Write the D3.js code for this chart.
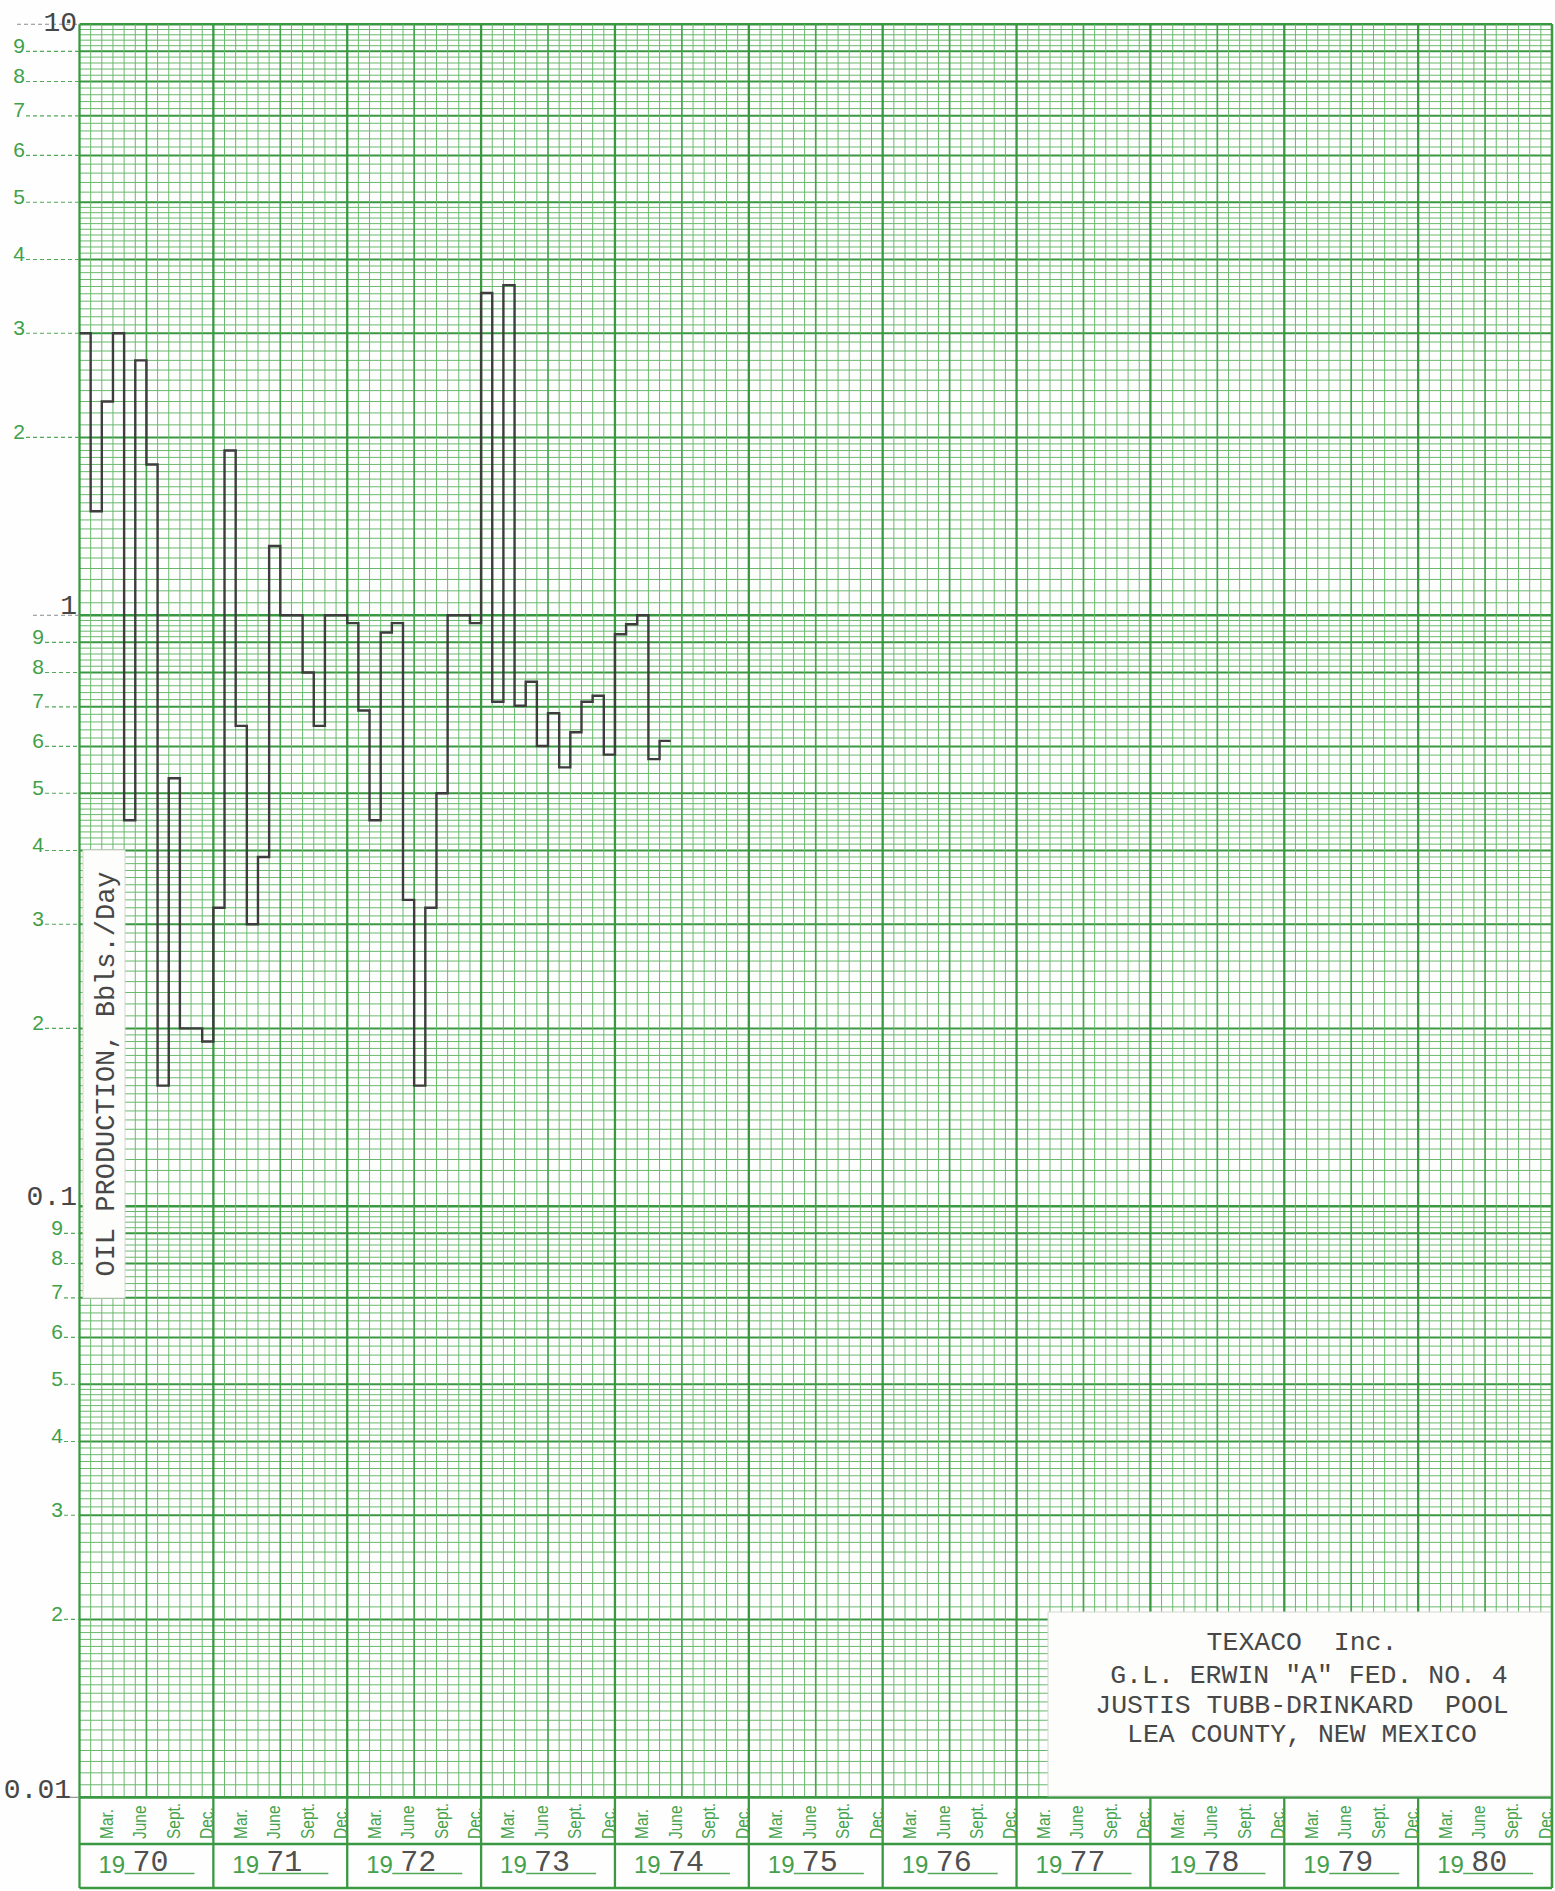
<!DOCTYPE html>
<html><head><meta charset="utf-8">
<script src="https://cdn.jsdelivr.net/npm/d3@7/dist/d3.min.js"></script>
<style>html,body{margin:0;padding:0;background:#fff;} svg{display:block;}</style>
</head><body>
<svg id="chart" width="1555" height="1891"></svg>
<script>
// ---------------- DATA ----------------
const years = [1970, 1971, 1972, 1973, 1974, 1975, 1976, 1977, 1978, 1979, 1980];
const monthLabels = ["Mar.", "June", "Sept.", "Dec."];
const monthLabelMonth = [3, 6, 9, 12];           // calendar month of each label
// Oil production, Bbls./Day, monthly from January of each year
const oil1970 = [3.0, 1.5, 2.3, 3.0, 0.45, 2.7, 1.8, 0.16, 0.53, 0.20, 0.20, 0.19];
const oil1971 = [0.32, 1.9, 0.65, 0.30, 0.39, 1.31, 1.0, 1.0, 0.80, 0.65, 1.0, 1.0];
const oil1972 = [0.97, 0.69, 0.45, 0.935, 0.97, 0.33, 0.16, 0.32, 0.50, 1.0, 1.0, 0.97];
const oil1973 = [3.51, 0.714, 3.62, 0.703, 0.772, 0.601, 0.683, 0.553, 0.634, 0.714, 0.731, 0.581];
const oil1974 = [0.929, 0.966, 1.0, 0.571, 0.613];
const decadeValues = [10, 1, 0.1, 0.01];
const decadeLabels = ["10", "1", "0.1", "0.01"];
const digitLabels = [9, 8, 7, 6, 5, 4, 3, 2];
const yAxisTitle = "OIL PRODUCTION, Bbls./Day";
const titleLines = ["TEXACO  Inc.", "G.L. ERWIN \"A\" FED. NO. 4", "JUSTIS TUBB-DRINKARD  POOL", "LEA COUNTY, NEW MEXICO"];

// ---------------- LAYOUT ----------------
const L = 79.5, R = 1552, T = 24.3, B = 1797.3, MB = 1844, YB = 1888;
const nMonths = years.length * 12;
const x = d3.scaleLinear().domain([0, nMonths]).range([L, R]);
const y = d3.scaleLog().domain([0.01, 10]).range([B, T]);

const MAJOR = "#3a9842", MID = "#48a34e", MINOR = "#6ab86d", LEAD = "#55a858";
const TYPE = "#474747";
const MONO = "'Liberation Mono', 'DejaVu Sans Mono', monospace";
const SANS = "'Liberation Sans', Arial, sans-serif";

const svg = d3.select("#chart");
svg.append("rect").attr("width", 1555).attr("height", 1891).attr("fill", "#fefefe");

// ---------------- GRID ----------------
const grid = svg.append("g");
// horizontal lines (log paper)
const hLines = [];
[-2, -1, 0].forEach(k => {
  const b = Math.pow(10, k);
  for (let i = 100; i < 200; i += 5) hLines.push({v: i / 100 * b, w: i % 100 === 0 ? 2 : 0});
  for (let i = 200; i < 500; i += 10) hLines.push({v: i / 100 * b, w: i % 100 === 0 ? 1 : 0});
  for (let i = 500; i < 1000; i += 20) hLines.push({v: i / 100 * b, w: i % 100 === 0 ? 1 : 0});
});
hLines.push({v: 10, w: 2});
hLines.sort((a, b) => a.w - b.w);
grid.selectAll("line.h").data(hLines).join("line")
  .attr("x1", L).attr("x2", R)
  .attr("y1", d => y(d.v)).attr("y2", d => y(d.v))
  .attr("stroke", d => d.w ? MAJOR : MINOR)
  .attr("stroke-width", d => d.w === 2 ? 2.5 : d.w === 1 ? 2 : 1);

// vertical lines: months, half years, years
const vLines = d3.range(0, nMonths + 1).sort((a, b) => (a % 6 === 0) - (b % 6 === 0));
grid.selectAll("line.v").data(vLines).join("line")
  .attr("x1", d => x(d)).attr("x2", d => x(d))
  .attr("y1", T).attr("y2", d => d % 12 === 0 ? YB : B)
  .attr("stroke", d => d % 12 === 0 ? MAJOR : d % 6 === 0 ? MID : MINOR)
  .attr("stroke-width", d => d % 12 === 0 ? 2.3 : d % 6 === 0 ? 1.7 : 1);

// bottom band lines
[B, MB, YB].forEach(yy => {
  grid.append("line").attr("x1", L).attr("x2", R).attr("y1", yy).attr("y2", yy)
    .attr("stroke", MAJOR).attr("stroke-width", 2.3);
});

// ---------------- MONTH / YEAR BANDS ----------------
const band = svg.append("g");
years.forEach((yr, yi) => {
  monthLabels.forEach((lab, j) => {
    const cx = x(yi * 12 + monthLabelMonth[j] - 0.5);
    band.append("text")
      .attr("transform", `translate(${cx + 5.5},1839) rotate(-90) scale(0.86,1)`)
      .attr("font-family", SANS).attr("font-size", 18).attr("fill", "#45a24c")
      .text(lab);
  });
  const x0 = x(yi * 12);
  band.append("text").attr("x", x0 + 19).attr("y", 1873)
    .attr("font-family", SANS).attr("font-size", 24).attr("fill", "#45a04b").text("19");
  band.append("line").attr("x1", x0 + 45).attr("x2", x0 + 115).attr("y1", 1873.5).attr("y2", 1873.5)
    .attr("stroke", "#55a858").attr("stroke-width", 1.3);
  band.append("text").attr("x", x0 + 71).attr("y", 1871).attr("text-anchor", "middle")
    .attr("font-family", MONO).attr("font-size", 30).attr("fill", "#505050")
    .text(String(yr).slice(2));
});

// ---------------- Y AXIS LABELS ----------------
const ax = svg.append("g");
const digitRight = [25, 44, 63];
[0, 1, 2].forEach(dec => {
  digitLabels.forEach(dg => {
    const v = dg * Math.pow(10, -dec);
    const yy = y(v);
    ax.append("line").attr("x1", digitRight[dec] + 1).attr("x2", L).attr("y1", yy).attr("y2", yy)
      .attr("stroke", LEAD).attr("stroke-width", 1.1).attr("stroke-dasharray", "4,3");
    ax.append("text").attr("x", digitRight[dec]).attr("y", yy + 1.5).attr("text-anchor", "end")
      .attr("font-family", SANS).attr("font-size", 21).attr("fill", "#42a04a").text(dg);
  });
});
const decLeadStart = [17, 33, null, 70];
decadeValues.forEach((v, i) => {
  const yy = y(v);
  if (decLeadStart[i] !== null) {
    ax.append("line").attr("x1", decLeadStart[i]).attr("x2", L).attr("y1", yy).attr("y2", yy)
      .attr("stroke", "#8a8a8a").attr("stroke-width", 1.1).attr("stroke-dasharray", i === 3 ? null : "4,3");
  }
  ax.append("text")
    .attr("x", i === 3 ? 71 : 77)
    .attr("y", Math.max(yy - 1, 31) + (i === 3 ? 2 : 0))
    .attr("text-anchor", "end")
    .attr("font-family", MONO).attr("font-size", 28).attr("fill", TYPE)
    .text(decadeLabels[i]);
});

// ---------------- DATA LINE ----------------
const oil = [].concat(oil1970, oil1971, oil1972, oil1973, oil1974);
const pts = oil.map((v, i) => [i, v]);
pts.push([oil.length, oil[oil.length - 1]]);
const line = d3.line().x(d => x(d[0])).y(d => y(d[1])).curve(d3.curveStepAfter);
svg.append("path").attr("d", line(pts)).attr("fill", "none")
  .attr("stroke", "#3d3d3d").attr("stroke-width", 2.4).attr("stroke-linejoin", "miter");

// ---------------- PASTED LABELS ----------------
// y-axis title strip
svg.append("rect").attr("x", 83).attr("y", 850).attr("width", 42).attr("height", 448)
  .attr("fill", "#fdfdfb").attr("stroke", "#d6d6d0").attr("stroke-width", 1);
svg.append("text").attr("transform", "translate(114,1074) rotate(-90)")
  .attr("text-anchor", "middle").attr("font-family", MONO).attr("font-size", 27)
  .attr("fill", TYPE).text(yAxisTitle);

// title block
svg.append("rect").attr("x", 1048).attr("y", 1612).attr("width", 503).attr("height", 184)
  .attr("fill", "#fdfdfb").attr("stroke", "#d6d6d0").attr("stroke-width", 1);
const tb = svg.append("g");
const tY = [1650, 1683, 1713, 1742];
titleLines.forEach((t, i) => {
  tb.append("text").attr("x", 1302 + (i === 1 ? 7 : 0)).attr("y", tY[i])
    .attr("text-anchor", "middle").attr("font-family", MONO).attr("font-size", 26.5)
    .attr("fill", TYPE).style("white-space", "pre").text(t);
});
// right border over the title block
svg.append("line").attr("x1", R).attr("x2", R).attr("y1", T).attr("y2", YB)
  .attr("stroke", MAJOR).attr("stroke-width", 2.3);
</script>
</body></html>
